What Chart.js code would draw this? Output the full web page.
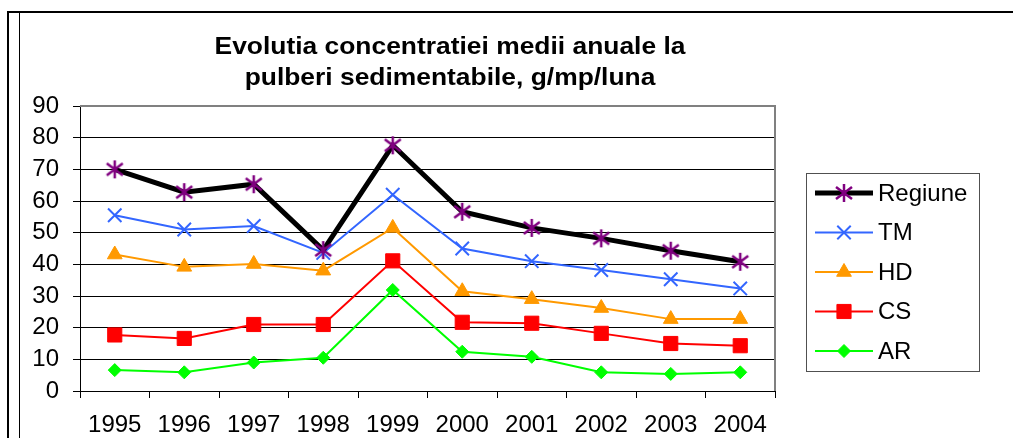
<!DOCTYPE html>
<html>
<head>
<meta charset="utf-8">
<title>Evolutia concentratiei medii anuale la pulberi sedimentabile</title>
<script src="https://cdn.jsdelivr.net/npm/chart.js@4.4.0/dist/chart.umd.min.js"></script>
<style>
    html, body { margin: 0; padding: 0; background: #fff; }
    #wrap { width: 1013px; height: 438px; }
</style>
</head>
<body>
<div id="wrap"><canvas id="pulberiChart" width="1013" height="438"></canvas></div>
<script>
// ========================================
// DATE - pulberi sedimentabile (g/mp/luna)
// ========================================
const years = ['1995', '1996', '1997', '1998', '1999', '2000', '2001', '2002', '2003', '2004'];
const regiune = [70.0, 62.8, 65.3, 44.5, 77.6, 56.6, 51.5, 48.2, 44.3, 40.8];
const tm = [55.5, 51.0, 52.1, 43.6, 62.0, 45.0, 41.0, 38.2, 35.3, 32.4];
const hd = [43.1, 39.2, 40.1, 38.0, 51.5, 31.5, 29.0, 26.2, 22.7, 22.7];
const cs = [17.7, 16.6, 21.0, 21.0, 41.1, 21.7, 21.4, 18.2, 15.0, 14.3];
const ar = [6.6, 5.9, 9.0, 10.5, 31.9, 12.4, 10.8, 5.9, 5.4, 5.9];
const yTicks = [0, 10, 20, 30, 40, 50, 60, 70, 80, 90];
const titleLines = ['Evolutia concentratiei medii anuale la', 'pulberi sedimentabile, g/mp/luna'];

const FONT = "'Liberation Sans', Arial, sans-serif";

// Excel-like star marker (vertical line + X)
function makeStar(color) {
    const c = document.createElement('canvas');
    c.width = 20;
    c.height = 20;
    const g = c.getContext('2d');
    g.strokeStyle = color;
    g.lineWidth = 2.5;
    g.beginPath();
    g.moveTo(10, 1); g.lineTo(10, 19);
    g.moveTo(2, 4); g.lineTo(18, 16);
    g.moveTo(18, 4); g.lineTo(2, 16);
    g.stroke();
    return c;
}
const starImg = makeStar('#800080');

// Page frame + white background
const framePlugin = {
    id: 'frame',
    beforeDraw(chart) {
        const ctx = chart.ctx;
        ctx.save();
        ctx.fillStyle = '#fff';
        ctx.fillRect(0, 0, chart.width, chart.height);
        ctx.strokeStyle = '#000';
        ctx.lineWidth = 2;
        ctx.beginPath();
        ctx.moveTo(8, chart.height);
        ctx.lineTo(8, 12);
        ctx.lineTo(chart.width, 12);
        ctx.stroke();
        ctx.lineWidth = 1;
        ctx.beginPath();
        ctx.moveTo(19.5, 13);
        ctx.lineTo(19.5, chart.height);
        ctx.stroke();
        ctx.restore();
    }
};

// Title, stretched a bit like the original picture
const titlePlugin = {
    id: 'customTitle',
    afterDraw(chart) {
        const ctx = chart.ctx;
        ctx.save();
        ctx.fillStyle = '#000';
        ctx.font = 'bold 24px ' + FONT;
        ctx.textAlign = 'center';
        ctx.textBaseline = 'alphabetic';
        const baselines = [54, 85];
        titleLines.forEach((t, i) => {
            ctx.save();
            ctx.translate(450, baselines[i]);
            ctx.scale(1.1, 1);
            ctx.fillText(t, 0, 0);
            ctx.restore();
        });
        ctx.restore();
    }
};

// Gray top / right border of the plot area
const plotBorderPlugin = {
    id: 'plotBorder',
    beforeDatasetsDraw(chart) {
        const a = chart.chartArea;
        const ctx = chart.ctx;
        ctx.save();
        ctx.strokeStyle = '#808080';
        ctx.lineWidth = 2;
        ctx.beginPath();
        ctx.moveTo(a.left, a.top);
        ctx.lineTo(a.right, a.top);
        ctx.lineTo(a.right, a.bottom);
        ctx.stroke();
        ctx.restore();
    }
};

// Legend box with line + marker samples
const legendPlugin = {
    id: 'boxLegend',
    afterDraw(chart) {
        const ctx = chart.ctx;
        const box = { x: 806, y: 173, w: 173, h: 198 };
        ctx.save();
        ctx.fillStyle = '#fff';
        ctx.fillRect(box.x, box.y, box.w, box.h);
        ctx.strokeStyle = '#505050';
        ctx.lineWidth = 1;
        ctx.strokeRect(box.x + 0.5, box.y + 0.5, box.w, box.h);

        chart.data.datasets.forEach((ds, i) => {
            const y = 193 + i * 39.5;
            ctx.strokeStyle = ds.borderColor;
            ctx.lineWidth = ds.borderWidth;
            ctx.beginPath();
            ctx.moveTo(815, y);
            ctx.lineTo(873, y);
            ctx.stroke();

            ctx.fillStyle = ds.pointBackgroundColor;
            ctx.strokeStyle = ds.pointBorderColor;
            ctx.lineWidth = ds.pointBorderWidth;
            Chart.helpers.drawPoint(ctx, {
                pointStyle: ds.pointStyle,
                radius: ds.pointRadius,
                borderWidth: ds.pointBorderWidth,
                rotation: 0
            }, 844, y);

            ctx.fillStyle = '#000';
            ctx.font = '24px ' + FONT;
            ctx.textAlign = 'left';
            ctx.textBaseline = 'middle';
            ctx.fillText(ds.label, 878, y + 1);
        });
        ctx.restore();
    }
};

const ctx = document.getElementById('pulberiChart').getContext('2d');
const pulberiChart = new Chart(ctx, {
    type: 'line',
    data: {
        labels: years,
        datasets: [
            {
                label: 'Regiune',
                data: regiune,
                borderColor: '#000000',
                borderWidth: 5,
                pointStyle: starImg,
                pointRadius: 9,
                pointBackgroundColor: '#800080',
                pointBorderColor: '#800080',
                pointBorderWidth: 2,
                tension: 0
            },
            {
                label: 'TM',
                data: tm,
                borderColor: '#3366FF',
                borderWidth: 2,
                pointStyle: 'crossRot',
                pointRadius: 9.5,
                pointBackgroundColor: '#3366FF',
                pointBorderColor: '#3366FF',
                pointBorderWidth: 2,
                tension: 0
            },
            {
                label: 'HD',
                data: hd,
                borderColor: '#FF9900',
                borderWidth: 2,
                pointStyle: 'triangle',
                pointRadius: 8.5,
                pointBackgroundColor: '#FF9900',
                pointBorderColor: '#FF9900',
                pointBorderWidth: 1,
                tension: 0
            },
            {
                label: 'CS',
                data: cs,
                borderColor: '#FF0000',
                borderWidth: 2,
                pointStyle: 'rect',
                pointRadius: 10,
                pointBackgroundColor: '#FF0000',
                pointBorderColor: '#FF0000',
                pointBorderWidth: 1,
                tension: 0
            },
            {
                label: 'AR',
                data: ar,
                borderColor: '#00FF00',
                borderWidth: 2,
                pointStyle: 'rectRot',
                pointRadius: 6.5,
                pointBackgroundColor: '#00FF00',
                pointBorderColor: '#00FF00',
                pointBorderWidth: 1,
                tension: 0
            }
        ]
    },
    options: {
        responsive: false,
        animation: false,
        devicePixelRatio: 1,
        layout: {
            padding: { left: 20, right: 238, top: 106, bottom: 0 }
        },
        plugins: {
            legend: { display: false },
            title: { display: false },
            tooltip: { enabled: false }
        },
        scales: {
            x: {
                offset: true,
                afterFit: function(scale) { scale.height = 47; },
                grid: {
                    offset: true,
                    drawOnChartArea: false,
                    drawTicks: true,
                    tickLength: 7,
                    color: '#000'
                },
                border: { display: true, color: '#000', width: 1 },
                ticks: {
                    color: '#000',
                    padding: 13,
                    maxRotation: 0,
                    autoSkip: false,
                    font: { family: FONT, size: 24 }
                }
            },
            y: {
                min: 0,
                max: 90,
                afterFit: function(scale) { scale.width = 60; },
                afterBuildTicks: function(scale) {
                    scale.ticks = yTicks.map(v => ({ value: v }));
                },
                grid: {
                    color: '#000',
                    lineWidth: 1,
                    drawTicks: true,
                    tickLength: 7
                },
                border: { display: true, color: '#000', width: 1 },
                ticks: {
                    color: '#000',
                    padding: 14,
                    autoSkip: false,
                    font: { family: FONT, size: 24 }
                }
            }
        }
    },
    plugins: [framePlugin, plotBorderPlugin, titlePlugin, legendPlugin]
});
</script>
</body>
</html>
